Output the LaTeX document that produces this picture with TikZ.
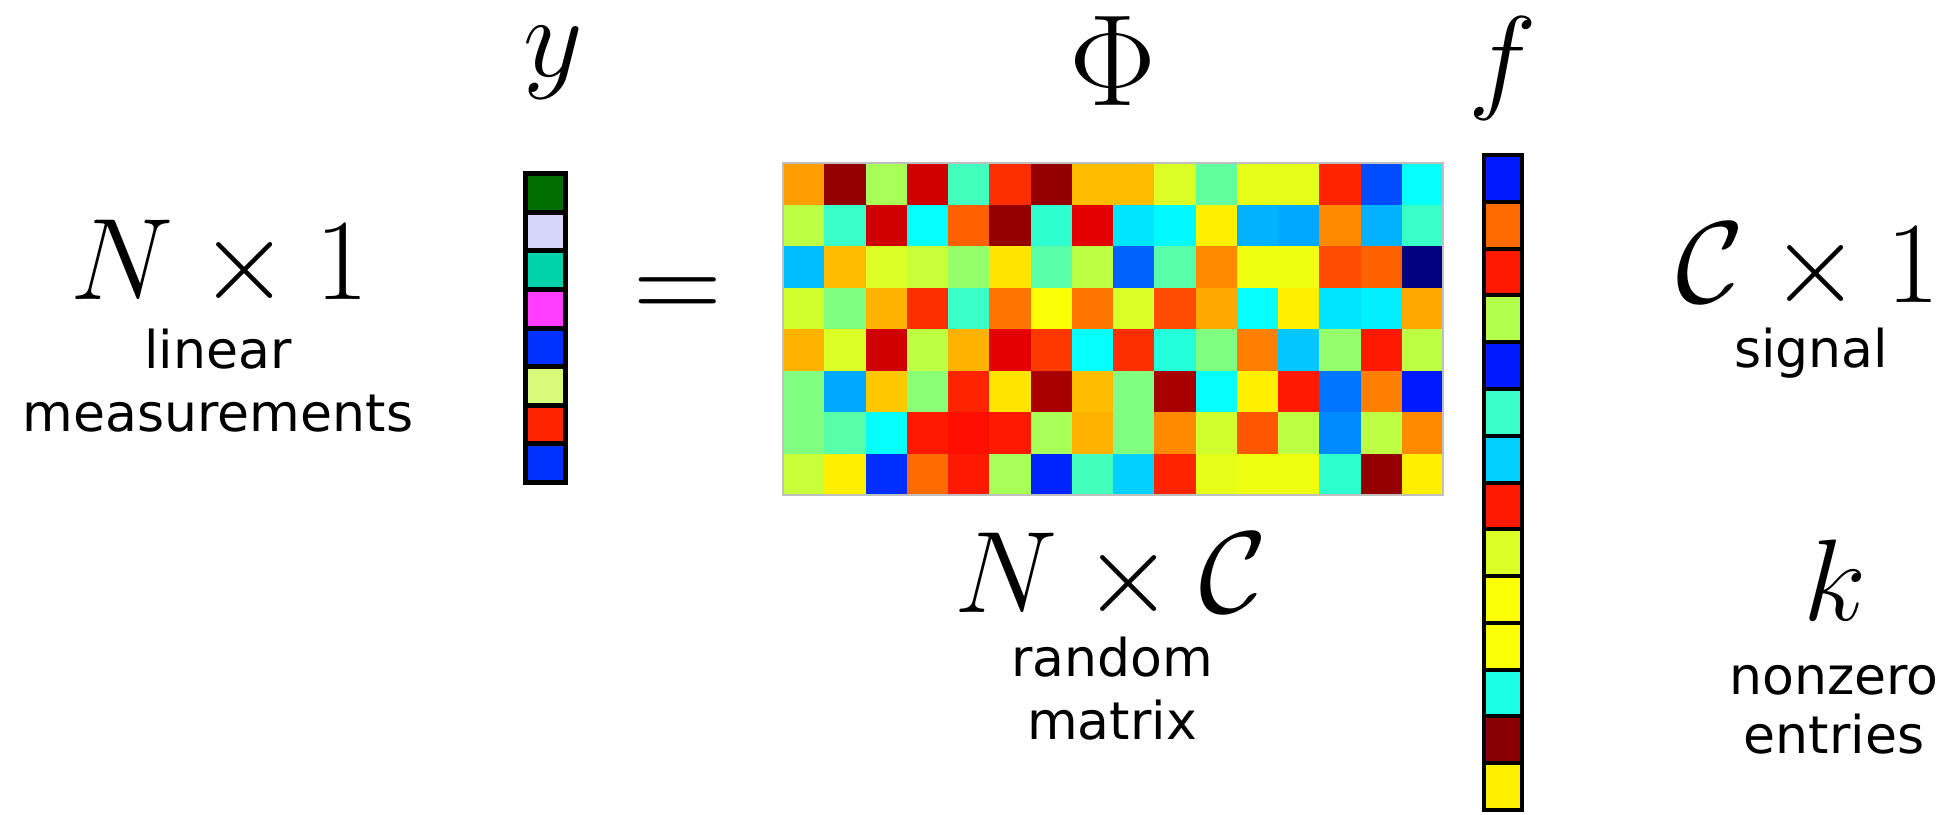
\RequirePackage{fix-cm}
\documentclass[tikz,border=0pt]{standalone}
\usepackage{fontspec}
\usepackage{tikz}
\usetikzlibrary{positioning}

\newfontfamily\labelfont{DejaVu Sans}

\definecolor{ygreen}{RGB}{0,110,0}
\definecolor{ylav}{RGB}{214,214,250}
\definecolor{yteal}{RGB}{0,210,170}
\definecolor{ypink}{RGB}{255,60,255}
\definecolor{yblue}{RGB}{0,50,255}
\definecolor{ylime}{RGB}{215,250,120}
\definecolor{yred}{RGB}{255,35,0}

% jet colour map, value 0..100
\newcommand{\setjet}[1]{%
  \pgfmathsetmacro\jr{max(0,min(1,1.5-abs(4*#1/100-3)))}%
  \pgfmathsetmacro\jg{max(0,min(1,1.5-abs(4*#1/100-2)))}%
  \pgfmathsetmacro\jb{max(0,min(1,1.5-abs(4*#1/100-1)))}%
  \definecolor{jetc}{rgb}{\jr,\jg,\jb}}

\begin{document}
\begin{tikzpicture}[
    x=0.01cm, y=-0.01cm,
    mathlab/.style={inner sep=0pt, font=\fontsize{33}{36}\selectfont},
    wordlab/.style={inner sep=0pt, align=center, font=\labelfont\fontsize{14.8}{18}\selectfont},
    ycell/.style={draw=black, line width=0.05cm},
    fcell/.style={draw=black, line width=0.04cm}
]
\useasboundingbox (0,0) rectangle (1944,814);

% measurement vector y
\foreach \c [count=\k from 0] in {ygreen,ylav,yteal,ypink,yblue,ylime,yred,yblue}
  \filldraw[ycell, fill=\c] (525.5,173.5+\k*38.625) rectangle ++(40,38.625);

% random matrix Phi
\foreach \row [count=\i from 0] in {
    {72,98,54,92,44,83,98,69,69,59,47,60,60,84,20,38},
    {56,43,92,38,78,98,42,90,35,37,64,30,29,74,30,43},
    {31,69,59,57,52,65,46,56,22,46,74,61,61,80,78,0},
    {58,50,70,83,43,76,62,76,59,80,71,38,64,35,36,71},
    {70,59,92,56,70,90,82,38,83,41,50,75,32,52,85,56},
    {50,29,68,51,84,65,96,69,50,96,38,64,85,24,75,15},
    {50,46,38,85,86,85,54,70,50,74,58,79,56,26,56,74},
    {57,64,17,77,85,54,16,44,33,84,60,61,61,42,98,64}} {
  \foreach \v [count=\j from 0] in \row {
    \setjet{\v}
    \fill[jetc] (783+\j*41.25,163+\i*41.5) rectangle ++(41.7,42);
  }
}
\draw[gray!50, line width=0.4pt] (783,163) rectangle (1443,495);

% sparse signal f
\foreach \v [count=\k from 0] in {15,77,85,55,15,43,33,85,59,62,62,40,99,64} {
  \setjet{\v}
  \filldraw[fcell, fill=jetc] (1484,155+\k*46.786) rectangle ++(38,46.786);
}

% symbols
\node[mathlab, anchor=base] (ylab) at (553,76) {$y$};
\node[mathlab, font=\fontsize{37}{40}\selectfont] (philab) at (1113,61) {$\Phi$};
\node[mathlab, anchor=base] (flab) at (1503,97) {$f$};
\node[mathlab, font=\fontsize{35}{38}\selectfont] (eqsign) at (678,300) {$=$};

% sizes and descriptions
\node[mathlab, anchor=base] (ydim) at (220,299) {$N \times 1$};
\node[wordlab, anchor=north] (ydesc) at (218,328) {linear\\measurements};

\node[mathlab, anchor=base] (phidim) at (1111,612) {$N \times \mathcal{C}$};
\node[wordlab, anchor=north] (phidesc) at (1112,636) {random\\matrix};

\node[mathlab, anchor=base] (fdim) at (1808,302) {$\mathcal{C} \times 1$};
\node[wordlab, anchor=north] (fdesc) at (1811,327) {signal};

\node[mathlab, anchor=base] (kval) at (1835,620) {$k$};
\node[wordlab, anchor=north, font=\labelfont\fontsize{14.8}{16.6}\selectfont] (kdesc) at (1834,665) {nonzero\\entries};
\end{tikzpicture}
\end{document}
